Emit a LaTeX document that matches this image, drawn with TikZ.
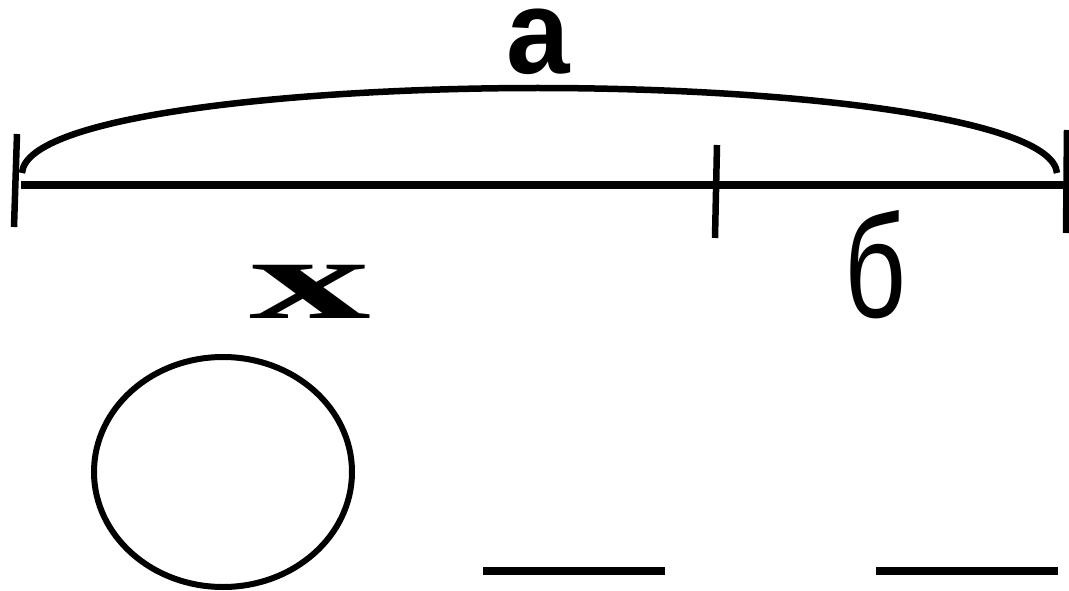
\documentclass[tikz,border=0pt]{standalone}
\usepackage{fontspec}
\setmainfont{Liberation Sans}
\newfontfamily\serifbold{Liberation Serif}
\begin{document}
\begin{tikzpicture}[x=1pt,y=-1pt,
  stroke/.style={line width=#1, black},
  lbl/.style={anchor=base, inner sep=0pt, text depth=0pt, font=\fontsize{118}{118}\selectfont}]
\useasboundingbox (0,0) rectangle (1069,591);
% coordinates
\coordinate (L) at (21,185);
\coordinate (R) at (1066,185);
\coordinate (LT) at (17,134);
\coordinate (LB) at (14,227);
\coordinate (MT) at (717,145);
\coordinate (MB) at (715,238);
\coordinate (RT) at (1067,130);
\coordinate (RB) at (1066,233);
\coordinate (AL) at (22,173);
\coordinate (AT) at (538,88);
\coordinate (AR) at (1057,173);
% main segment
\draw[stroke=8pt] (L) -- (R);
\draw[stroke=6.5pt] (LT) -- (LB);
\draw[stroke=6.5pt] (MT) -- (MB);
\draw[stroke=6.5pt] (RT) -- (RB);
% arc
\draw[stroke=6.5pt] (AL) .. controls (26,115) and (300,88) .. (AT)
  .. controls (790,88) and (1052,118) .. (AR);
% labels
\node[lbl, text height=62pt, font=\fontsize{120}{120}\selectfont\bfseries, xscale=0.95] (a) at (538,74) {а};
\node[lbl, font=\fontsize{116}{116}\selectfont\serifbold\bfseries, xscale=2.1] (x) at (310,318) {x};
\node[lbl, font=\fontsize{146}{146}\selectfont, xscale=0.74] (b) at (875,317) {б};
% ellipse
\coordinate (e) at (223,472);
\draw[stroke=6pt] (e) circle [x radius=129, y radius=115];
% blanks
\coordinate (b1l) at (483,571);
\coordinate (b1r) at (665,571);
\coordinate (b2l) at (876,571);
\coordinate (b2r) at (1058,571);
\draw[stroke=8pt] (b1l) -- (b1r);
\draw[stroke=8pt] (b2l) -- (b2r);
\end{tikzpicture}
\end{document}
